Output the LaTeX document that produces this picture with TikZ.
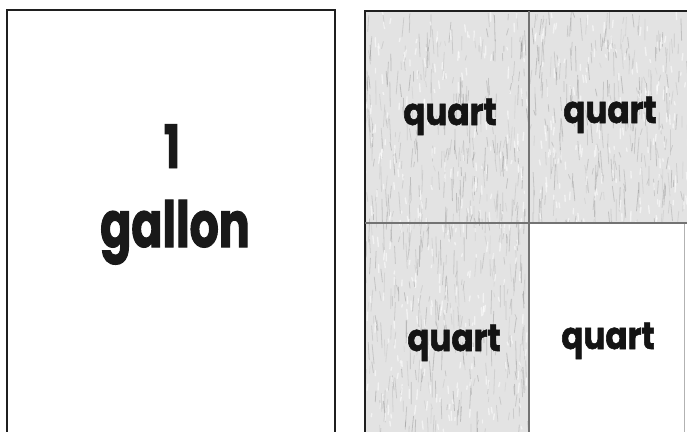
\documentclass[tikz,border=0pt]{standalone}
\usepackage{fontspec}
\newfontfamily\galfont{Poppins}[FakeStretch=0.72, BoldFeatures={FakeBold=1.6}]
\newfontfamily\qtfont{Poppins}[FakeStretch=0.86, BoldFeatures={FakeBold=1.4}]
\tikzset{
  frame/.style={draw=black!88, line width=2.2bp},
  gridline/.style={draw=black!55, line width=1.1bp},
  bigtext/.style={inner sep=0pt, anchor=base, text=black!90, font=\galfont\bfseries\fontsize{64}{64}\selectfont},
  onetext/.style={inner sep=0pt, anchor=base, text=black!90, font=\galfont\bfseries\fontsize{60}{60}\selectfont},
  qtext/.style={inner sep=0pt, anchor=base, text=black!92, font=\qtfont\bfseries\fontsize{38}{38}\selectfont},
}
\begin{document}
\begin{tikzpicture}[x=1bp,y=-1bp]
\useasboundingbox (0,0) rectangle (687,431);
\fill[white] (0,0) rectangle (687,431);
\begin{scope}
\clip (0,0) rectangle (687,431);
% shaded quarts
\fill[black!11] (365,11) rectangle (529,223);
\fill[black!11] (529,11) rectangle (695,223);
\fill[black!11] (365,223) rectangle (529,440);
\begin{scope}
\clip (365,11) rectangle (529,223) (529,11) rectangle (695,223) (365,223) rectangle (529,440);
\pgfmathsetseed{7}
\foreach \i in {1,...,1100}{
  \pgfmathsetmacro\xx{365+rnd*325}
  \pgfmathsetmacro\yy{11+rnd*430}
  \pgfmathsetmacro\ll{4+rnd*22}
  \pgfmathsetmacro\dx{rnd*4-2}
  \pgfmathtruncatemacro\gg{30+rnd*50}
  \draw[black!\gg, opacity=0.22, line width=0.8bp, line cap=round] (\xx,\yy) -- ++(\dx,\ll);
}
\foreach \i in {1,...,600}{
  \pgfmathsetmacro\xx{365+rnd*325}
  \pgfmathsetmacro\yy{11+rnd*430}
  \pgfmathsetmacro\ll{2+rnd*8}
  \draw[white, opacity=0.55, line width=1.4bp, line cap=round] (\xx,\yy) -- ++(rnd*2-1,\ll);
}
\end{scope}
% frames
\draw[frame] (7,440) -- (7,10) -- (335,10) -- (335,440);
\draw[frame] (365,440) -- (365,11) -- (695,11);
\draw[black!30, line width=0.8bp] (684,223) -- (684,440);
% grid
\draw[gridline] (529,11) -- (529,440);
\draw[gridline] (365,223) -- (695,223);
\end{scope}
% texts
\node[onetext] (one) at (172,168) {1};
\node[bigtext] (gallon) at (175,247) {gallon};
\node[qtext] (q1) at (450,125) {quart};
\node[qtext] (q2) at (610,123) {quart};
\node[qtext] (q3) at (454,351) {quart};
\node[qtext] (q4) at (608,349) {quart};
\end{tikzpicture}
\end{document}
